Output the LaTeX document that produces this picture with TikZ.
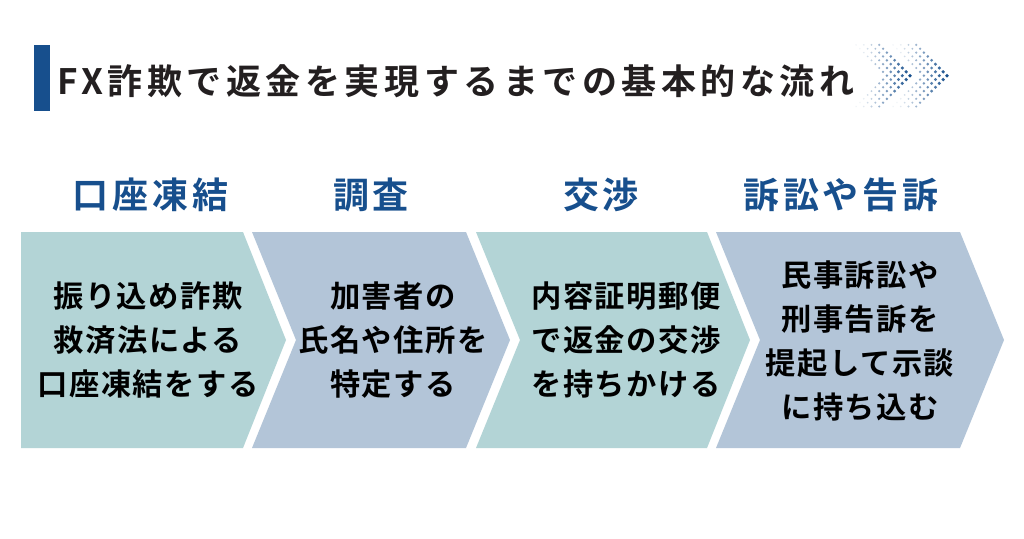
\documentclass[tikz,border=0pt]{standalone}
\usepackage{fontspec}
\setmainfont{Noto Sans CJK JP}
\newfontfamily\bodyfont[LetterSpace=5]{Noto Sans CJK JP Bold}
\newfontfamily\headfont[LetterSpace=11]{Noto Sans CJK JP Bold}
\newfontfamily\titlefont[LetterSpace=13]{Noto Sans CJK JP Bold}
\definecolor{tealbox}{HTML}{B3D4D6}
\definecolor{bluebox}{HTML}{B3C5D8}
\definecolor{navy}{HTML}{174F8D}
\definecolor{titleink}{HTML}{231F20}
\tikzset{
  x=1pt,y=-1pt,
  bodytext/.style={font=\bodyfont\fontsize{30.3}{44}\selectfont,align=center,text=black,inner sep=0pt},
  headtext/.style={font=\headfont\fontsize{36}{40}\selectfont,text=navy,inner sep=0pt},
  titletext/.style={font=\titlefont\fontsize{35}{40}\selectfont,text=titleink,inner sep=0pt,anchor=west},
}
\begin{document}
\begin{tikzpicture}
\useasboundingbox (0,0) rectangle (1024,538);
\fill[white] (0,0) rectangle (1024,538);
% title bar
\fill[navy] (34,45) rectangle (45.7,111);
\fill[navy] (46.3,45) rectangle (50.3,111);
\node[titletext] (title) at (57,81) {FX詐欺で返金を実現するまでの基本的な流れ};
% halftone chevrons
\foreach \ox in {0,37}{
  \foreach \j in {-8,...,8}{
    \pgfmathsetmacro{\aj}{abs(\j)}
    \foreach \k in {0,1,2,3}{
      \pgfmathsetmacro{\dist}{3.85*\aj+7.7*\k}
      \pgfmathsetmacro{\px}{\ox+910-\dist}
      \pgfmathsetmacro{\py}{75.7+3.85*\j}
      \pgfmathsetmacro{\shade}{max(7,100-1.9*\dist)}
      \pgfmathsetmacro{\rad}{0.7+1.2*\shade/100}
      \fill[navy!\shade!white] (\px,\py) circle[radius=\rad];
    }
  }
}
% chevrons
\fill[tealbox] (21,232) -- (243,232) -- (286,340) -- (243,448) -- (21,448) -- cycle;
\fill[bluebox] (252,232) -- (466,232) -- (510,340) -- (466,448) -- (252,448) -- (296,340) -- cycle;
\fill[tealbox] (476,232) -- (707,232) -- (750,340) -- (707,448) -- (476,448) -- (520,340) -- cycle;
\fill[bluebox] (716,232) -- (960,232) -- (1004,340) -- (960,448) -- (716,448) -- (760,340) -- cycle;
% headings
\node[headtext] (h1) at (150.5,195) {口座凍結};
\node[headtext] (h2) at (371,195) {調査};
\node[headtext] (h3) at (601,195) {交渉};
\node[headtext] (h4) at (841,195) {訴訟や告訴};
% body
\node[bodytext] (b1) at (148,340) {振り込め詐欺\\救済法による\\口座凍結をする};
\node[bodytext] (b2) at (393,340) {加害者の\\氏名や住所を\\特定する};
\node[bodytext] (b3) at (626,340) {内容証明郵便\\で返金の交渉\\を持ちかける};
\node[bodytext] (b4) at (860,341) {民事訴訟や\\刑事告訴を\\提起して示談\\に持ち込む};
\end{tikzpicture}
\end{document}
